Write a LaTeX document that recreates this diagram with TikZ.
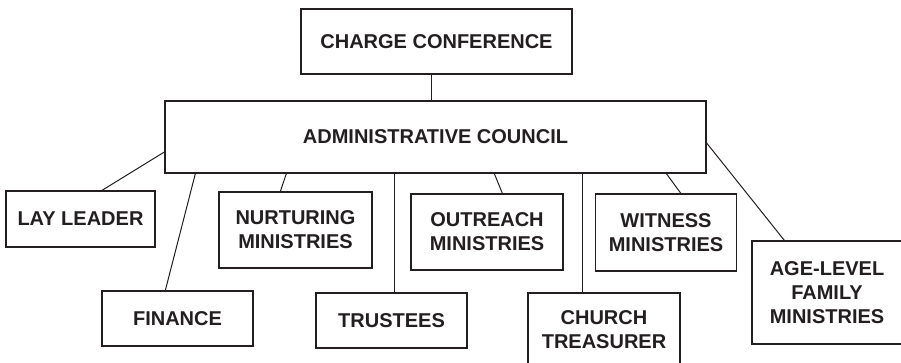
\documentclass[tikz,border=0pt]{standalone}
\usepackage{fontspec}
\setmainfont{Liberation Sans}
\usetikzlibrary{calc}
\definecolor{ink}{HTML}{231F20}
\tikzset{
  orgbox/.style={draw=ink, line width=1.3pt, fill=white, text=ink, inner sep=0pt,
    align=center, font=\fontsize{20}{24}\selectfont\bfseries},
  link/.style={draw=ink, line width=1pt}
}
\begin{document}
\begin{tikzpicture}[x=1pt,y=-1pt]
\useasboundingbox (0,0) rectangle (901,362);
\clip (0,0) rectangle (901,362);
\node[orgbox, minimum width=271pt, minimum height=65pt] (cc) at (436.5,41.5) {CHARGE CONFERENCE};
\node[orgbox, minimum width=541pt, minimum height=72pt] (ac) at (435.5,137) {ADMINISTRATIVE COUNCIL};
\node[orgbox, minimum width=149pt, minimum height=56pt] (ll) at (80.5,219) {LAY LEADER};
\node[orgbox, minimum width=151pt, minimum height=55pt] (fin) at (177.5,318.5) {FINANCE};
\node[orgbox, minimum width=153pt, minimum height=76pt] (nur) at (295.5,230) {NURTURING\\MINISTRIES};
\node[orgbox, minimum width=151pt, minimum height=55pt] (tru) at (391.5,320.5) {TRUSTEES};
\node[orgbox, minimum width=152pt, minimum height=76pt] (out) at (487,232) {OUTREACH\\MINISTRIES};
\node[orgbox, minimum width=152pt, minimum height=74pt] (ct) at (604,330) {CHURCH\\TREASURER};
\node[orgbox, minimum width=141pt, minimum height=77pt] (wit) at (666,232.5) {WITNESS\\MINISTRIES};
\node[orgbox, minimum width=150pt, minimum height=103pt] (age) at (827,292.5) {AGE-LEVEL\\FAMILY\\MINISTRIES};
\draw[link] ($(cc.south)+(-5.5,0)$) -- ($(ac.north)+(-4.5,0)$);
\draw[link] ($(ac.west)+(0,15)$) -- ($(ll.north)+(21.5,0)$);
\draw[link] ($(ac.south west)+(31,0)$) -- ($(fin.north west)+(64,0)$);
\draw[link] ($(ac.south west)+(122,0)$) -- ($(nur.north west)+(62,0)$);
\draw[link] ($(ac.south west)+(230,0)$) -- ($(tru.north west)+(79,0)$);
\draw[link] ($(ac.south west)+(330,0)$) -- ($(out.north west)+(92,0)$);
\draw[link] ($(ac.south west)+(418,0)$) -- ($(ct.north west)+(55,0)$);
\draw[link] ($(ac.south west)+(502,0)$) -- ($(wit.north west)+(86,0)$);
\draw[link] ($(ac.east)+(0,6)$) -- ($(age.north west)+(33,0)$);
\end{tikzpicture}
\end{document}
